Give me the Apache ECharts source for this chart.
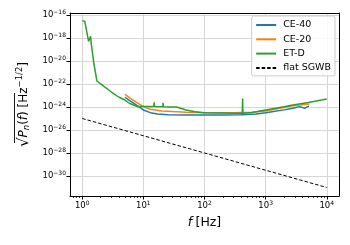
<!DOCTYPE html>
<html><head><meta charset="utf-8">
<script src="https://cdn.jsdelivr.net/npm/echarts@6/dist/echarts.min.js"></script>
<style>html,body{margin:0;padding:0;background:#fff}#c{width:350px;height:245px}</style>
</head><body><div id="c"></div>
<script>
// ---- data ----
const ce40F = [5, 6, 7.5, 10, 13, 17, 25, 50, 100, 200, 400, 700, 1000, 2000, 2800, 3600, 4400, 5100];
const ce40Y = [7e-24, 3.5e-24, 1.6e-24, 5.5e-25, 3.2e-25, 2.4e-25, 2.1e-25, 2e-25, 2e-25, 2e-25, 2.1e-25, 2.5e-25, 3.2e-25, 5.6e-25, 7.8e-25, 1.07e-24, 7.8e-25, 1.2e-24];
const ce20F = [5, 6, 7.5, 10, 13, 20, 30, 50, 100, 300, 600, 1000, 2000, 2800, 5200];
const ce20Y = [1.26e-23, 6.3e-24, 2.8e-24, 1.07e-24, 6.3e-25, 4.5e-25, 4e-25, 3.5e-25, 3.2e-25, 3.2e-25, 3.5e-25, 4.5e-25, 9e-25, 1.26e-24, 1.8e-24];
const etdF = [1, 1.1, 1.2, 1.27, 1.32, 1.37, 1.4, 1.55, 1.74, 2, 3, 4, 5, 6, 8, 10, 14.8, 15, 15.3, 20.8, 21, 21.3, 25, 35, 50, 70, 100, 200, 300, 415, 420, 425, 600, 1000, 2000, 2800, 5000, 10000];
const etdY = [3.2e-17, 2.8e-17, 2.5e-18, 5e-19, 6.3e-19, 1.4e-18, 3.5e-19, 6.3e-21, 1.8e-22, 1e-22, 2e-23, 7e-24, 4e-24, 2e-24, 1.1e-24, 1.1e-24, 1.1e-24, 2.5e-24, 1.1e-24, 1.05e-24, 2.3e-24, 1.05e-24, 1e-24, 1e-24, 5.5e-25, 3.8e-25, 3.2e-25, 3e-25, 2.9e-25, 2.9e-25, 5.5e-24, 2.9e-25, 3.3e-25, 5.5e-25, 1.05e-24, 1.5e-24, 2.5e-24, 5e-24];
const sgwbF = [1, 10, 100, 1000, 10000];
const sgwbY = [1e-25, 3.16e-27, 1e-28, 3.16e-30, 1e-31];
const xTicks = [1, 10, 100, 1000, 10000];
const xMinorTicks = [0.7, 0.8, 0.9, 2, 3, 4, 5, 6, 7, 8, 9, 20, 30, 40, 50, 60, 70, 80, 90, 200, 300, 400, 500, 600, 700, 800, 900, 2000, 3000, 4000, 5000, 6000, 7000, 8000, 9000];
const yTicks = [1e-30, 1e-28, 1e-26, 1e-24, 1e-22, 1e-20, 1e-18, 1e-16];
const seriesNames = ['CE-40', 'CE-20', 'ET-D', 'flat SGWB'];
const colors = ['#1f77b4', '#ff7f0e', '#2ca02c', '#000000'];

const zip = (a, b) => a.map((v, i) => [v, b[i]]);
const FONT = 'DejaVu Sans';
const sup = s => s.replace('-', '\u2212');
const tickFmt = v => '{b|10}{s|' + sup(String(Math.round(Math.log10(v)))) + '}';
const tickRich = {
  b: {fontFamily: FONT, fontSize: 8.5, color: '#000', lineHeight: 12},
  s: {fontFamily: FONT, fontSize: 6, color: '#000', verticalAlign: 'top', lineHeight: 12, padding: [0, 0, 5, 0]}
};
const gridColor = '#d6d6d6';
const X_MIN = Math.pow(10, -0.2), X_MAX = Math.pow(10, 4.2);
const Y_MIN = Math.pow(10, -31.74), Y_MAX = Math.pow(10, -15.83);

const chart = echarts.init(document.getElementById('c'), null, {renderer: 'canvas'});
chart.setOption({
  animation: false,
  backgroundColor: '#fff',
  grid: {left: 70, right: 11, top: 13, bottom: 49, containLabel: false},
  legend: {
    data: seriesNames,
    right: 15, top: 16,
    orient: 'vertical',
    itemWidth: 20, itemHeight: 10, itemGap: 4.3,
    padding: [4, 4, 3, 3.5],
    backgroundColor: 'rgba(255,255,255,0.85)',
    borderColor: '#cccccc', borderWidth: 1, borderRadius: 2,
    itemStyle: {opacity: 0},
    textStyle: {fontFamily: FONT, fontSize: 9.5, color: '#000', padding: [0, 0, 0, 2]}
  },
  graphic: [{
    type: 'line', silent: true,
    shape: {x1: 14.5, y1: 93, x2: 14.5, y2: 143},
    style: {stroke: '#000', lineWidth: 0.9}
  }],
  xAxis: [{
    type: 'log', logBase: 10, min: X_MIN, max: X_MAX,
    axisLine: {show: true, lineStyle: {color: '#000', width: 1}},
    axisTick: {show: true, customValues: xTicks, length: 3.5, lineStyle: {color: '#000', width: 1}},
    axisLabel: {customValues: xTicks, formatter: tickFmt, rich: tickRich, margin: 4},
    splitLine: {show: true, lineStyle: {color: gridColor, width: 1}},
    name: '{i|f} {t|[Hz]}', nameLocation: 'middle', nameGap: 20,
    nameTextStyle: {rich: {i: {fontFamily: FONT, fontStyle: 'italic', fontSize: 12.5, color: '#000'}, t: {fontFamily: FONT, fontSize: 12.5, color: '#000'}}}
  }, {
    type: 'log', logBase: 10, position: 'bottom', min: X_MIN, max: X_MAX,
    axisLine: {show: false},
    axisTick: {show: true, customValues: xMinorTicks, length: 2, lineStyle: {color: '#000', width: 0.8}},
    axisLabel: {show: false}, splitLine: {show: false}
  }, {
    type: 'log', logBase: 10, position: 'top', min: X_MIN, max: X_MAX,
    axisLine: {show: true, lineStyle: {color: '#000', width: 1}},
    axisTick: {show: false}, axisLabel: {show: false}, splitLine: {show: false}
  }],
  yAxis: [{
    type: 'log', logBase: 10, min: Y_MIN, max: Y_MAX,
    splitNumber: 8,
    axisLine: {show: true, lineStyle: {color: '#000', width: 1}},
    axisTick: {show: true, customValues: yTicks, length: 3.5, lineStyle: {color: '#000', width: 1}},
    axisLabel: {customValues: yTicks, formatter: tickFmt, rich: tickRich, margin: 4},
    splitLine: {show: true, lineStyle: {color: gridColor, width: 1}},
    name: '{r|\u221A}{i|P}{sub|n}{t|(}{i|f}{t|)}{t| [Hz}{sup|\u22121/2}{t|]}',
    nameLocation: 'middle', nameGap: 38, nameRotate: 90,
    nameTextStyle: {rich: {
      r: {fontFamily: FONT, fontSize: 15, color: '#000', lineHeight: 16},
      i: {fontFamily: FONT, fontStyle: 'italic', fontSize: 12, color: '#000', lineHeight: 16},
      t: {fontFamily: FONT, fontSize: 12, color: '#000', lineHeight: 16},
      sub: {fontFamily: FONT, fontStyle: 'italic', fontSize: 8.5, color: '#000', verticalAlign: 'bottom', lineHeight: 16},
      sup: {fontFamily: FONT, fontSize: 8.5, color: '#000', verticalAlign: 'top', lineHeight: 16}
    }}
  }, {
    type: 'log', logBase: 10, position: 'right', min: Y_MIN, max: Y_MAX,
    axisLine: {show: true, lineStyle: {color: '#000', width: 1}},
    axisTick: {show: false}, axisLabel: {show: false}, splitLine: {show: false}
  }],
  series: [
    {name: seriesNames[0], type: 'line', data: zip(ce40F, ce40Y), showSymbol: false, symbol: 'none', lineStyle: {color: colors[0], width: 1.5}, itemStyle: {color: colors[0]}},
    {name: seriesNames[1], type: 'line', data: zip(ce20F, ce20Y), showSymbol: false, symbol: 'none', lineStyle: {color: colors[1], width: 1.5}, itemStyle: {color: colors[1]}},
    {name: seriesNames[2], type: 'line', data: zip(etdF, etdY), showSymbol: false, symbol: 'none', lineStyle: {color: colors[2], width: 1.5}, itemStyle: {color: colors[2]}},
    {name: seriesNames[3], type: 'line', data: zip(sgwbF, sgwbY), showSymbol: false, symbol: 'none', lineStyle: {color: colors[3], width: 1, type: [3.5, 2]}, itemStyle: {color: colors[3]}}
  ]
});
</script></body></html>
